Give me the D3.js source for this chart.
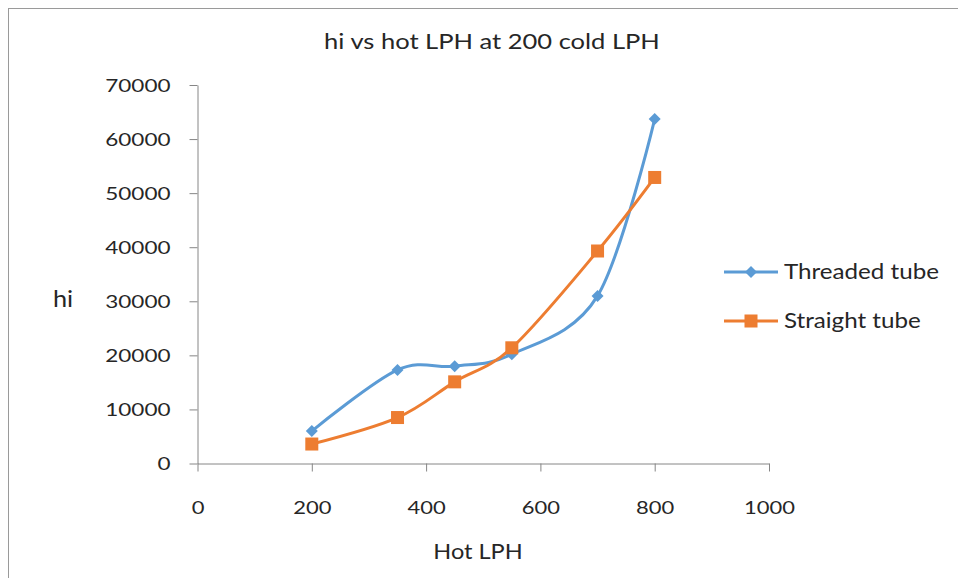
<!DOCTYPE html>
<html>
<head>
<meta charset="utf-8">
<script src="https://cdn.jsdelivr.net/npm/d3@7"></script>
<style>
  html, body { margin: 0; padding: 0; background: #fff; }
  svg { display: block; }
  text { font-family: Lato, "Open Sans", sans-serif; fill: #262626; }
</style>
</head>
<body>
<svg id="chart" width="958" height="578"></svg>
<script>
// ---- data ----
const hotLPH = [200, 350, 450, 550, 700, 800];
const threadedTube = [6000, 17300, 18000, 20200, 31000, 63700];
const straightTube = [3600, 8500, 15100, 21400, 39300, 52900];
const seriesNames = ["Threaded tube", "Straight tube"];
const xTicks = [0, 200, 400, 600, 800, 1000];
const yTicks = [0, 10000, 20000, 30000, 40000, 50000, 60000, 70000];
const titleText = "hi vs hot LPH at 200 cold LPH";
const xTitle = "Hot LPH";
const yTitle = "hi";

const colors = ["#5B9BD5", "#ED7D31"];
const axisColor = "#868686";

const svg = d3.select("#chart");

function stretch(sel, sx) {
  sel.each(function() {
    const w = this.getComputedTextLength();
    d3.select(this).attr("textLength", w * sx).attr("lengthAdjust", "spacingAndGlyphs");
  });
}

// outer chart border (only top and left visible)
svg.append("rect").attr("x", 8.5).attr("y", 8.5).attr("width", 1200).attr("height", 1200)
  .attr("fill", "none").attr("stroke", "#9a9a9a").attr("stroke-width", 1);

const x = d3.scaleLinear().domain([0, 1000]).range([197.5, 769]);
const y = d3.scaleLinear().domain([0, 70000]).range([463.5, 85]);

// axes
const yAxis = svg.append("g").attr("transform", `translate(${x(0)},0)`)
  .call(d3.axisLeft(y).tickValues(yTicks).tickFormat(d3.format("d")).tickSize(8).tickPadding(19).tickSizeOuter(0));
const xAxis = svg.append("g").attr("transform", `translate(0,${y(0)})`)
  .call(d3.axisBottom(x).tickValues(xTicks).tickFormat(d3.format("d")).tickSize(8).tickPadding(30).tickSizeOuter(0));
[xAxis, yAxis].forEach(g => {
  g.selectAll("path, line").attr("stroke", axisColor);
  g.selectAll("text").attr("font-size", 18).attr("font-family", "Lato").attr("fill", "#262626");
});
yAxis.selectAll("text").attr("dy", "0.35em");
xAxis.selectAll("text").attr("dy", "0.71em");
stretch(xAxis.selectAll("text"), 1.22);
stretch(yAxis.selectAll("text"), 1.25);

// lines
const line = d3.line().x(d => x(d[0])).y(d => y(d[1])).curve(d3.curveCardinal.tension(0));
const seriesData = [threadedTube, straightTube].map(vals => hotLPH.map((h, i) => [h, vals[i]]));

seriesData.forEach((data, si) => {
  svg.append("path").datum(data).attr("d", line)
    .attr("fill", "none").attr("stroke", colors[si]).attr("stroke-width", 3)
    .attr("stroke-linejoin", "round").attr("stroke-linecap", "round");
});

const diamond = d3.symbol().type(d3.symbolSquare).size(72);
function drawMarker(g, si, cx, cy) {
  if (si === 0) {
    g.append("path").attr("d", diamond())
      .attr("transform", `translate(${cx},${cy}) rotate(45)`)
      .attr("fill", colors[0]);
  } else {
    g.append("rect").attr("x", cx - 6.5).attr("y", cy - 6.5).attr("width", 13).attr("height", 13)
      .attr("fill", colors[1]);
  }
}
seriesData.forEach((data, si) => {
  const g = svg.append("g");
  data.forEach(d => drawMarker(g, si, x(d[0]), y(d[1])));
});

// titles
stretch(svg.append("text").attr("x", 492).attr("y", 49).attr("text-anchor", "middle")
  .attr("font-size", 22).text(titleText), 1.16);
stretch(svg.append("text").attr("x", 478).attr("y", 559).attr("text-anchor", "middle")
  .attr("font-size", 22).text(xTitle), 1.07);
stretch(svg.append("text").attr("x", 63).attr("y", 307).attr("text-anchor", "middle")
  .attr("font-size", 23).text(yTitle), 1.1);

// legend
const legendY = [272, 321];
seriesNames.forEach((name, si) => {
  const g = svg.append("g");
  g.append("line").attr("x1", 724).attr("x2", 778).attr("y1", legendY[si]).attr("y2", legendY[si])
    .attr("stroke", colors[si]).attr("stroke-width", 3);
  drawMarker(g, si, 751, legendY[si]);
  stretch(g.append("text").attr("x", 784).attr("y", legendY[si]).attr("dy", "0.35em")
    .attr("font-size", 21).text(name), 1.15);
});
</script>
</body>
</html>
